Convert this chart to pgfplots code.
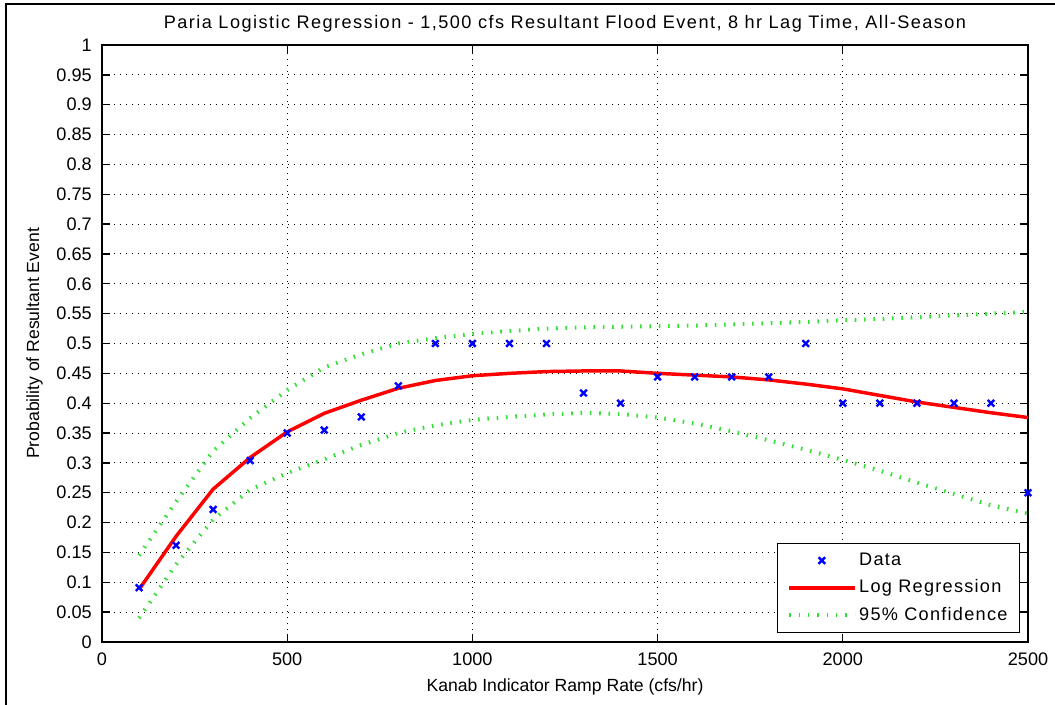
\documentclass[border=0pt]{standalone}
\usepackage{fontspec}
\setmainfont{Liberation Sans}
\newfontfamily\widefont[LetterSpace=7]{Liberation Sans}
\newfontfamily\titlefont[LetterSpace=8]{Liberation Sans}
\usepackage{pgfplots}
\pgfplotsset{compat=1.18}
\definecolor{confgreen}{rgb}{0.2,0.88,0.2}
\definecolor{regred}{rgb}{1,0,0}
\pgfplotsset{
  linelegend/.style={legend image code/.code={\draw[##1] (0pt,0pt) -- (49pt,0pt);}},
  marklegend/.style={legend image code/.code={\draw[mark repeat=2,mark phase=2,##1] plot coordinates {(0pt,0pt) (24.5pt,0pt) (49pt,0pt)};}},
}
\begin{document}
\fontsize{13.6}{16}\selectfont
\begin{tikzpicture}
\useasboundingbox (0,0) rectangle (791.25pt,528.75pt);
\draw[line width=1.5pt] (4.5pt,0pt) -- (4.5pt,525.75pt) -- (791.25pt,525.75pt);
\begin{axis}[
  at={(76.5pt,47.25pt)}, anchor=south west,
  scale only axis, width=694.5pt, height=447.75pt,
  xmin=0, xmax=2500, ymin=0, ymax=1,
  xtick={0,500,1000,1500,2000,2500},
  xticklabels={0,500,1000,1500,2000,2500},
  ytick={0,0.05,0.1,0.15,0.2,0.25,0.3,0.35,0.4,0.45,0.5,0.55,0.6,0.65,0.7,0.75,0.8,0.85,0.9,0.95,1},
  yticklabels={0,0.05,0.1,0.15,0.2,0.25,0.3,0.35,0.4,0.45,0.5,0.55,0.6,0.65,0.7,0.75,0.8,0.85,0.9,0.95,1},
  /pgf/number format/assume math mode=true,
  tick align=inside, major tick length=6pt,
  axis line style={line width=1pt},
  every tick/.style={black, line width=1pt},
  grid=major,
  major grid style={black, line width=0.75pt, dash pattern=on 0.75pt off 3.75pt},
  ticklabel style={font=\fontsize{13.6}{16}\selectfont},
  xticklabel style={anchor=base, yshift=-18pt},
  yticklabel style={anchor=east, inner sep=0pt, xshift=-7.5pt},
  title={Paria Logistic Regression - 1,500 cfs Resultant Flood Event, 8 hr Lag Time, All-Season},
  title style={at={(0.5,1)}, anchor=base, yshift=6pt, font=\titlefont\fontsize{13.6}{16}\selectfont},
  xlabel={Kanab Indicator Ramp Rate (cfs/hr)},
  xlabel style={at={(axis description cs:0.5,0)}, anchor=base, yshift=-37.5pt, font=\fontsize{13.2}{16}\selectfont},
  ylabel={Probability of Resultant Event},
  ylabel style={at={(axis description cs:-0.068,0.5)}, anchor=base, font=\fontsize{13.2}{16}\selectfont},
  legend style={at={(1,0)}, anchor=south east, xshift=-6pt, yshift=6.75pt,
    draw=black, line width=0.75pt, inner xsep=7pt, inner ysep=6.5pt, row sep=8.1pt,
    font=\widefont\fontsize{13.6}{16}\selectfont,
    nodes={inner xsep=2pt, inner ysep=0pt, text height=9.75pt, text depth=2.75pt}},
  legend cell align=left,
]
\addplot[confgreen, line width=3pt, dash pattern=on 1.2pt off 5.8pt, forget plot]
  coordinates {
  (100,0.040) (200,0.130) (300,0.205) (400,0.255) (500,0.283) (600,0.306) (700,0.330)
  (800,0.350) (900,0.363) (1000,0.372) (1100,0.377) (1200,0.381) (1300,0.384)
  (1400,0.382) (1500,0.376) (1600,0.366) (1700,0.353) (1800,0.338) (1900,0.322)
  (2000,0.305) (2100,0.287) (2200,0.267) (2300,0.248) (2400,0.229) (2500,0.215)};
\addplot[only marks, mark=x, mark size=3.5pt, blue, line width=1.8pt, marklegend]
  coordinates {
  (100,0.091) (200,0.162) (300,0.222) (400,0.304) (500,0.350) (600,0.355) (700,0.377)
  (800,0.429) (900,0.5) (1000,0.5) (1100,0.5) (1200,0.5) (1300,0.417) (1400,0.400)
  (1500,0.444) (1600,0.444) (1700,0.444) (1800,0.444) (1900,0.5) (2000,0.400)
  (2100,0.400) (2200,0.400) (2300,0.400) (2400,0.400) (2500,0.250)};
\addlegendentry{Data}
\addplot[regred, line width=2.6pt, linelegend]
  coordinates {
  (100,0.088) (200,0.177) (300,0.256) (400,0.309) (500,0.352) (600,0.383) (700,0.405)
  (800,0.425) (900,0.438) (1000,0.446) (1100,0.450) (1200,0.453) (1300,0.454)
  (1400,0.454) (1500,0.450) (1600,0.447) (1700,0.444) (1800,0.439) (1900,0.432)
  (2000,0.424) (2100,0.413) (2200,0.402) (2300,0.393) (2400,0.384) (2500,0.376)};
\addlegendentry{Log Regression}
\addplot[confgreen, line width=3pt, dash pattern=on 1.2pt off 5.8pt, linelegend]
  coordinates {
  (100,0.145) (200,0.235) (300,0.320) (400,0.375) (500,0.422) (600,0.460) (700,0.482)
  (800,0.500) (900,0.509) (1000,0.516) (1100,0.521) (1200,0.525) (1300,0.527)
  (1400,0.528) (1500,0.529) (1600,0.530) (1700,0.532) (1800,0.534) (1900,0.536)
  (2000,0.539) (2100,0.541) (2200,0.544) (2300,0.547) (2400,0.550) (2500,0.553)};
\addlegendentry{95\% Confidence}
\end{axis}
\end{tikzpicture}
\end{document}
